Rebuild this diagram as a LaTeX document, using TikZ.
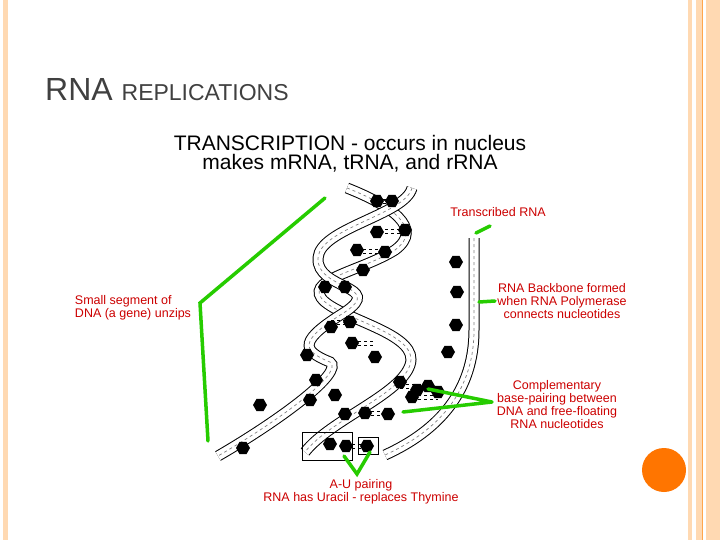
\documentclass[tikz,border=0pt]{standalone}
\usepackage{fontspec}
\usetikzlibrary{shapes.geometric}
\setmainfont{Liberation Sans}
\begin{document}
\begin{tikzpicture}[x=1pt,y=-1pt,
  ribbon/.style={line width=11pt,black},
  ribbonin/.style={line width=9pt,white},
  ribbonmid/.style={line width=0.7pt,gray,dashed},
  blob/.style={regular polygon,regular polygon sides=6,fill=black,inner sep=0pt,minimum size=14pt},
  lab/.style={text=red!80!black,font=\fontsize{12.5}{13}\selectfont,align=center},
  gline/.style={line width=3.5pt,green!75!black!80!lime,line cap=round},
  pb/.style={draw=black,line width=0.6pt}]
\useasboundingbox (0,0) rectangle (720,540);
\fill[white] (0,0) rectangle (720,540);
% borders
\fill[orange!30!white] (3,0) rectangle (8,540);
\fill[orange!30!white] (688,0) rectangle (692,540);
\fill[orange!30!white] (696,0) rectangle (720,540);
\draw[orange!70!white,line width=0.8pt] (702,0) -- (702,540);
\fill[white] (703,0) rectangle (706,540);
\node[circle,fill=orange!80!red!90!yellow,minimum size=44pt,inner sep=0pt] (dot) at (664,470) {};
% title
\node[anchor=base west,text=black!75,inner sep=0pt] (title) at (45,101)
  {\fontsize{32}{34}\selectfont RNA \fontsize{23}{25}\selectfont REPLICATIONS};
\node[anchor=base,inner sep=0pt,font=\fontsize{21}{24}\selectfont] (h1) at (350,151) {TRANSCRIPTION - occurs in nucleus};
\node[anchor=base,inner sep=0pt,font=\fontsize{21}{24}\selectfont] (h2) at (350,170) {makes mRNA, tRNA, and rRNA};
% helix strands
\def\strandA{(347,188) .. controls (390,205) and (425,228) .. (395,250) .. controls (360,272) and (300,280) .. (325,302) .. controls (350,322) and (420,335) .. (410,365) .. controls (400,395) and (330,420) .. (305,452)}
\def\strandB{(412,188) .. controls (405,215) and (320,228) .. (318,258) .. controls (316,290) and (385,285) .. (345,312) .. controls (300,340) and (300,350) .. (330,362) .. controls (345,372) and (280,420) .. (218,456)}
\def\strandR{(474,238) -- (474,330) .. controls (474,390) and (440,430) .. (385,455)}
\foreach \s in {\strandA,\strandB,\strandR}{
  \draw[ribbon] \s; \draw[ribbonin] \s; \draw[ribbonmid] \s;}
% base pairs
\foreach \a/\b in {377/201,392/201,377/232,405/230,357/250,385/252,363/270,345/287,325/287,350/322,331/327,352/343,375/357,307/355,316/380,335/395,310/400,345/414,365/413,388/414,400/382,417/390,330/444,346/446,367/446,243/448,456/262,457/292,456/325,448/352,428/386,438/392,412/397,260/405}
  \node[blob] at (\a,\b) {};
\foreach \a/\b/\c in {377/392/201,385/405/231,363/385/251,331/352/322,352/375/343,365/388/413,400/428/386,412/438/397,346/367/446}
  \draw[dashed,line width=0.6pt] (\a,\c-2) -- (\b,\c-2) (\a,\c+2) -- (\b,\c+2);
% boxes
\node[pb,minimum width=50pt,minimum height=28pt,inner sep=0pt] (box1) at (327,446) {};
\node[pb,minimum width=20pt,minimum height=17pt,inner sep=0pt] (box2) at (368,446) {};
% labels
\node[lab] (l1) at (498,212) {Transcribed RNA};
\node[lab,align=left] (l2) at (133,308) {Small segment of\\ DNA (a gene) unzips};
\node[lab] (l3) at (562,301) {RNA Backbone formed\\ when RNA Polymerase\\ connects nucleotides};
\node[lab] (l4) at (557,405) {Complementary\\ base-pairing between\\ DNA and free-floating\\ RNA nucleotides};
\node[lab] (l5) at (361,492) {A-U pairing\\ RNA has Uracil - replaces Thymine};
% green lines
\coordinate (g1) at (325,198); \coordinate (g2) at (200,303); \coordinate (g3) at (208,441);
\draw[gline] (g1) -- (g2) -- (g3);
\draw[gline] (476,233) -- (490,226);
\draw[gline] (479,302) -- (495,301);
\coordinate (gv) at (492,402);
\draw[gline] (gv) -- (428,389) (gv) -- (403,412);
\draw[gline] (344,456) -- (357,474) -- (370,452);
\end{tikzpicture}
\end{document}
